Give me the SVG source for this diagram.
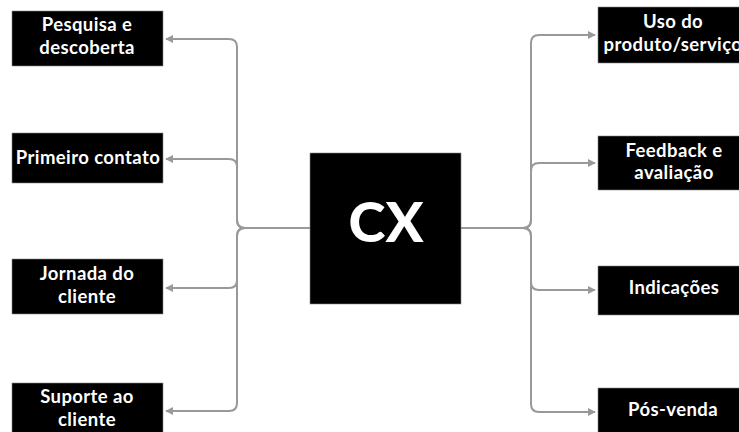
<svg xmlns="http://www.w3.org/2000/svg" width="739" height="432" viewBox="0 0 739 432">
<style>
.box{fill:#000;stroke:#888;stroke-width:0.6}
.t{font-family:Lato,"Liberation Sans",sans-serif;font-weight:700;font-size:18.5px;letter-spacing:0.4px;fill:#fff;text-anchor:middle}
.cx{font-family:Lato,"Liberation Sans",sans-serif;font-weight:900;font-size:56px;fill:#fff;text-anchor:middle}
.c{fill:none;stroke:#999;stroke-width:2}
</style>
<defs>
<marker id="ah" viewBox="0 0 10 10" refX="9" refY="5" markerWidth="4" markerHeight="4" orient="auto" markerUnits="strokeWidth">
<path d="M0,0 L10,5 L0,10 z" fill="#999"/>
</marker>
</defs>
<rect width="739" height="432" fill="#fff"/>
<g id="connectors">
<path class="c" marker-end="url(#ah)" d="M310,228 H245 Q237,228 237,220 V47 Q237,39 229,39 H166"/>
<path class="c" marker-end="url(#ah)" d="M310,228 H245 Q237,228 237,220 V167 Q237,159 229,159 H166"/>
<path class="c" marker-end="url(#ah)" d="M310,228 H245 Q237,228 237,236 V280 Q237,288 229,288 H166"/>
<path class="c" marker-end="url(#ah)" d="M310,228 H245 Q237,228 237,236 V403 Q237,411 229,411 H166"/>
<path class="c" marker-end="url(#ah)" d="M461,228 H523 Q531,228 531,220 V43 Q531,35 539,35 H595"/>
<path class="c" marker-end="url(#ah)" d="M461,228 H523 Q531,228 531,220 V171 Q531,163 539,163 H595"/>
<path class="c" marker-end="url(#ah)" d="M461,228 H523 Q531,228 531,236 V282 Q531,290 539,290 H595"/>
<path class="c" marker-end="url(#ah)" d="M461,228 H523 Q531,228 531,236 V404 Q531,412 539,412 H595"/>
</g>
<g id="cx">
<rect class="box" x="310" y="153" width="151" height="151"/>
<text class="cx" x="386" y="242">CX</text>
</g>
<g id="pesquisa">
<rect class="box" x="12" y="11" width="151" height="55"/>
<text class="t" x="87" y="31">Pesquisa e</text>
<text class="t" x="87" y="54">descoberta</text>
</g>
<g id="primeiro">
<rect class="box" x="12" y="133" width="151" height="50"/>
<text class="t" x="88" y="164">Primeiro contato</text>
</g>
<g id="jornada">
<rect class="box" x="12" y="259" width="151" height="55"/>
<text class="t" x="87" y="280">Jornada do</text>
<text class="t" x="87" y="303">cliente</text>
</g>
<g id="suporte">
<rect class="box" x="12" y="383" width="151" height="55"/>
<text class="t" x="87" y="403">Suporte ao</text>
<text class="t" x="87" y="426">cliente</text>
</g>
<g id="uso">
<rect class="box" x="598" y="7" width="151" height="56"/>
<text class="t" x="673" y="28">Uso do</text>
<text class="t" x="673" y="51">produto/serviço</text>
</g>
<g id="feedback">
<rect class="box" x="598" y="136" width="151" height="54"/>
<text class="t" x="674" y="157">Feedback e</text>
<text class="t" x="674" y="179">avaliação</text>
</g>
<g id="indicacoes">
<rect class="box" x="598" y="266" width="151" height="49"/>
<text class="t" x="674" y="294">Indicações</text>
</g>
<g id="posvenda">
<rect class="box" x="598" y="388" width="151" height="55"/>
<text class="t" x="673" y="416">Pós-venda</text>
</g>
</svg>
